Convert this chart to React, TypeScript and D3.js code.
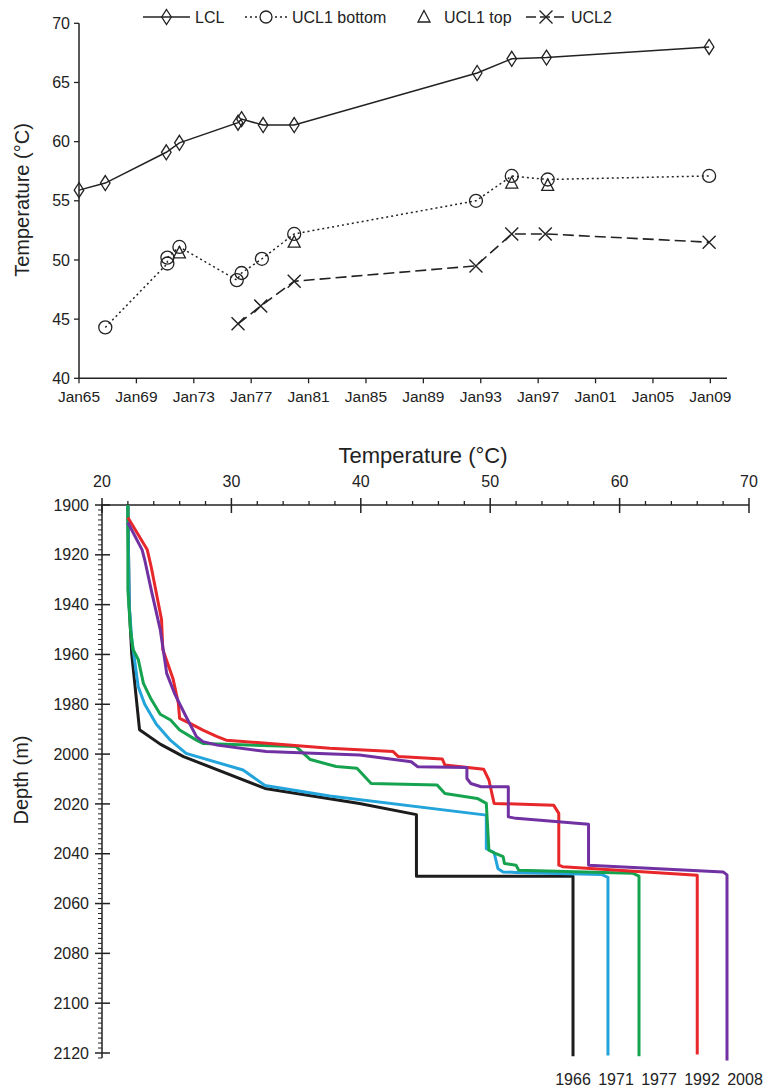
import React from "react";
import * as d3 from "d3";

const W = 773;
const H = 1091;
const FONT = "'Liberation Sans', Arial, Helvetica, sans-serif";

// ---------- Upper panel: layer temperatures through time ----------
const yearTicks = ["1965-01", "1969-01", "1973-01", "1977-01", "1981-01", "1985-01", "1989-01", "1993-01", "1997-01", "2001-01", "2005-01", "2009-01"];
const tempTicksTop = [40, 45, 50, 55, 60, 65, 70];

const lclDates = ["1965-01", "1966-11", "1971-02", "1972-01", "1976-02", "1976-05", "1977-11", "1980-01", "1992-10", "1995-03", "1997-08", "2008-12"];
const lclTemps = [55.9, 56.5, 59.1, 59.9, 61.6, 61.9, 61.4, 61.4, 65.8, 67.0, 67.1, 68.0];

const ucl1BottomDates = ["1966-11", "1971-03", "1971-03", "1972-01", "1976-01", "1976-05", "1977-10", "1980-01", "1992-09", "1995-03", "1997-09", "2008-12"];
const ucl1BottomTemps = [44.3, 49.7, 50.2, 51.1, 48.3, 48.9, 50.1, 52.2, 55.0, 57.1, 56.8, 57.1];

const ucl1TopDates = ["1972-01", "1980-01", "1995-03", "1997-09"];
const ucl1TopTemps = [50.6, 51.5, 56.5, 56.3];

const ucl2Dates = ["1976-02", "1977-09", "1980-01", "1992-09", "1995-03", "1997-07", "2008-12"];
const ucl2Temps = [44.6, 46.1, 48.2, 49.5, 52.2, 52.2, 51.5];

// ---------- Lower panel: temperature-depth profiles ----------
const tempTicksBottom = [20, 30, 40, 50, 60, 70];
const depthTicks = [1900, 1920, 1940, 1960, 1980, 2000, 2020, 2040, 2060, 2080, 2100, 2120];

// [temperature °C, depth m]
const profile1966: [number, number][] = [
  [22.0, 1900], [22.1, 1940], [22.3, 1960], [22.9, 1990.2], [24.5, 1996], [26.3, 2001],
  [32.6, 2013.8], [39.9, 2019.8], [44.3, 2024.3], [44.3, 2049], [56.4, 2049], [56.4, 2121.3],
];
const profile1971: [number, number][] = [
  [22.0, 1900], [22.1, 1940], [22.3, 1954], [22.8, 1973], [23.3, 1980], [24.2, 1988],
  [25.3, 1994.5], [26.5, 1999.7], [30.9, 2006.4], [32.6, 2012.6], [37.6, 2016.8], [49.7, 2024.5],
  [49.7, 2038], [50.3, 2039.5], [50.6, 2046], [51.0, 2047.3], [52.0, 2047.5], [58.6, 2048.3],
  [59.1, 2049.5], [59.1, 2121],
];
const profile1977: [number, number][] = [
  [22.0, 1900], [22.0, 1934], [22.2, 1950], [22.4, 1958], [22.8, 1962], [23.2, 1971.6],
  [23.8, 1978], [24.5, 1984], [25.3, 1986.3], [26.0, 1990.3], [27.3, 1994.4], [27.8, 1995.7],
  [35.0, 1997], [36.1, 2002.2], [38.1, 2005], [39.7, 2005.7], [40.8, 2011.8], [45.9, 2012.4],
  [46.5, 2015.8], [49.0, 2017.8], [49.7, 2019.8], [49.9, 2038.6], [50.4, 2039.9], [51.0, 2041.2],
  [51.1, 2043.9], [52.0, 2044.6], [52.2, 2046.6], [61.0, 2047.8], [61.5, 2049], [61.5, 2121.3],
];
const profile1992: [number, number][] = [
  [22.0, 1905], [23.5, 1918], [23.8, 1924.8], [24.6, 1946], [24.7, 1958], [25.5, 1970],
  [25.9, 1979.6], [26.0, 1985.7], [26.8, 1987.7], [27.8, 1990.4], [28.9, 1993], [29.6, 1994.4],
  [37.6, 1997.7], [42.5, 1999], [42.9, 2001], [46.3, 2002], [46.5, 2004.4], [49.5, 2006.1],
  [49.9, 2010.4], [50.3, 2019.8], [54.9, 2020.5], [55.3, 2023.8], [55.3, 2044.6], [55.6, 2045.2],
  [66.0, 2048.6], [66.0, 2120.6],
];
const profile2008: [number, number][] = [
  [22.0, 1907], [23.1, 1918], [23.3, 1922], [23.8, 1934], [24.5, 1950], [25.0, 1967.6],
  [25.6, 1975.6], [26.5, 1985], [27.3, 1993], [27.8, 1995], [28.9, 1996.4], [32.7, 1999],
  [39.9, 2000.4], [43.9, 2003.1], [44.4, 2005.1], [48.2, 2005.4], [48.2, 2009.8], [48.5, 2011.8],
  [49.3, 2013.1], [51.4, 2013.1], [51.4, 2025.2], [52.0, 2025.8], [57.6, 2028.2], [57.6, 2044.6],
  [68.0, 2047.3], [68.3, 2048.5], [68.3, 2123],
];

const profileYears = ["1966", "1971", "1977", "1992", "2008"];
const profileData = [profile1966, profile1971, profile1977, profile1992, profile2008];
const profileColors = ["#1c1c1c", "#23a4db", "#16a34f", "#e8272b", "#7131a3"];

const parseMonth = d3.timeParse("%Y-%m");
const fmtTick = d3.timeFormat("%b%y");

function Diamond({ x, y }: { x: number; y: number }) {
  return <path d={`M${x},${y - 7.5}L${x + 4.8},${y}L${x},${y + 7.5}L${x - 4.8},${y}Z`} fill="none" stroke="#222" strokeWidth={1.3} />;
}
function Circle({ x, y }: { x: number; y: number }) {
  return <circle cx={x} cy={y} r={6.5} fill="none" stroke="#222" strokeWidth={1.3} />;
}
function Triangle({ x, y }: { x: number; y: number }) {
  return <path d={`M${x},${y - 6.5}L${x + 6},${y + 5}L${x - 6},${y + 5}Z`} fill="none" stroke="#222" strokeWidth={1.3} />;
}
function Cross({ x, y }: { x: number; y: number }) {
  return <path d={`M${x - 6.5},${y - 6.5}L${x + 6.5},${y + 6.5}M${x - 6.5},${y + 6.5}L${x + 6.5},${y - 6.5}`} stroke="#222" strokeWidth={1.4} />;
}

export default function App() {
  // upper panel scales
  const xT = d3.scaleTime().domain([parseMonth("1965-01")!, parseMonth("2010-03")!]).range([79, 727]);
  const yT = d3.scaleLinear().domain([40, 70]).range([378.3, 23.3]);

  const toPts = (dates: string[], temps: number[]) => dates.map((d, i) => [xT(parseMonth(d)!), yT(temps[i])] as [number, number]);
  const lclPts = toPts(lclDates, lclTemps);
  const ucl1bPts = toPts(ucl1BottomDates, ucl1BottomTemps);
  const ucl1tPts = toPts(ucl1TopDates, ucl1TopTemps);
  const ucl2Pts = toPts(ucl2Dates, ucl2Temps);
  const lineT = d3.line<[number, number]>();

  // lower panel scales
  const xB = d3.scaleLinear().domain([20, 70]).range([102, 749]);
  const yB = d3.scaleLinear().domain([1900, 2120]).range([505, 1053]);
  const lineB = d3.line<[number, number]>().x((d) => xB(d[0])).y((d) => yB(d[1]));
  const minorTemps = d3.range(20, 70.01, 2).filter((v) => v % 10 !== 0);
  const minorDepths = d3.range(1900, 2122.01, 2).filter((v) => v % 20 !== 0);

  // year labels under the profile ends, nudged right so they don't collide
  const labelW = 36;
  const labelGap = 7;
  let prevRight = -Infinity;
  const labelX = profileData.map((p) => {
    const cx = xB(p[p.length - 1][0]);
    const left = Math.max(cx - labelW / 2, prevRight + labelGap);
    prevRight = left + labelW;
    return left + labelW / 2;
  });

  const ink = "#222";

  return (
    <svg width={W} height={H} style={{ position: "absolute", left: 0, top: 0, background: "#fff" }} fontFamily={FONT}>
      <rect width={W} height={H} fill="#fff" />

      {/* ===== Upper panel ===== */}
      <g>
        {/* legend */}
        <g fontSize={16} fill={ink}>
          <line x1={143} x2={190} y1={17} y2={17} stroke={ink} strokeWidth={1.5} />
          <Diamond x={166.5} y={17} />
          <text x={195} y={22.5}>LCL</text>
          <line x1={245} x2={287} y1={17} y2={17} stroke={ink} strokeWidth={1.5} strokeDasharray="2,3" />
          <circle cx={266} cy={17} r={6} fill="#fff" stroke={ink} strokeWidth={1.3} />
          <text x={292} y={22.5}>UCL1 bottom</text>
          <Triangle x={424} y={17} />
          <text x={444} y={22.5}>UCL1 top</text>
          <line x1={526} x2={566} y1={17} y2={17} stroke={ink} strokeWidth={1.5} strokeDasharray="10,4" />
          <Cross x={546} y={17} />
          <text x={571} y={22.5}>UCL2</text>
        </g>

        {/* axes */}
        <line x1={79} x2={79} y1={yT(40)} y2={yT(70)} stroke={ink} strokeWidth={1.5} />
        <line x1={79} x2={727} y1={yT(40)} y2={yT(40)} stroke={ink} strokeWidth={1.5} />
        {tempTicksTop.map((t) => (
          <g key={t}>
            <line x1={74} x2={79} y1={yT(t)} y2={yT(t)} stroke={ink} strokeWidth={1.3} />
            <text x={70} y={yT(t)} dy="0.35em" textAnchor="end" fontSize={16} fill={ink}>{t}</text>
          </g>
        ))}
        {yearTicks.map((d) => {
          const x = xT(parseMonth(d)!);
          return (
            <g key={d}>
              <line x1={x} x2={x} y1={yT(40)} y2={yT(40) + 5} stroke={ink} strokeWidth={1.3} />
              <text x={x} y={402} textAnchor="middle" fontSize={15.5} fill={ink}>{fmtTick(parseMonth(d)!)}</text>
            </g>
          );
        })}
        <text transform={`translate(29,200) rotate(-90)`} textAnchor="middle" fontSize={20} fill={ink}>Temperature (°C)</text>

        {/* series */}
        <path d={lineT(lclPts)!} fill="none" stroke={ink} strokeWidth={1.5} />
        <path d={lineT(ucl1bPts)!} fill="none" stroke={ink} strokeWidth={1.5} strokeDasharray="2,3" />
        <path d={lineT(ucl2Pts)!} fill="none" stroke={ink} strokeWidth={1.6} strokeDasharray="11,5" />
        {lclPts.map(([x, y], i) => <Diamond key={"l" + i} x={x} y={y} />)}
        {ucl1bPts.map(([x, y], i) => <Circle key={"b" + i} x={x} y={y} />)}
        {ucl1tPts.map(([x, y], i) => <Triangle key={"t" + i} x={x} y={y} />)}
        {ucl2Pts.map(([x, y], i) => <Cross key={"u" + i} x={x} y={y} />)}
      </g>

      {/* ===== Lower panel ===== */}
      <g>
        <text x={423} y={463} textAnchor="middle" fontSize={22} fill={ink}>Temperature (°C)</text>
        <line x1={xB(20)} x2={xB(70)} y1={505} y2={505} stroke={ink} strokeWidth={1.5} />
        <line x1={102} x2={102} y1={505} y2={yB(2122)} stroke={ink} strokeWidth={1.5} />
        {tempTicksBottom.map((t) => (
          <g key={t}>
            <line x1={xB(t)} x2={xB(t)} y1={498} y2={513} stroke={ink} strokeWidth={1.5} />
            <text x={xB(t)} y={487} textAnchor="middle" fontSize={16} fill={ink}>{t}</text>
          </g>
        ))}
        {minorTemps.map((t) => (
          <line key={t} x1={xB(t)} x2={xB(t)} y1={501} y2={505} stroke={ink} strokeWidth={1.3} />
        ))}
        {depthTicks.map((d) => (
          <g key={d}>
            <line x1={95} x2={110} y1={yB(d)} y2={yB(d)} stroke={ink} strokeWidth={1.5} />
            <text x={89} y={yB(d)} dy="0.35em" textAnchor="end" fontSize={16} fill={ink}>{d}</text>
          </g>
        ))}
        {minorDepths.map((d) => (
          <line key={d} x1={98} x2={102} y1={yB(d)} y2={yB(d)} stroke={ink} strokeWidth={1} />
        ))}
        <text transform={`translate(28,780) rotate(-90)`} textAnchor="middle" fontSize={20} fill={ink}>Depth (m)</text>

        {profileData.map((p, i) => (
          <path key={profileYears[i]} d={lineB(p)!} fill="none" stroke={profileColors[i]} strokeWidth={3} strokeLinejoin="round" strokeLinecap="butt" />
        ))}
        {profileYears.map((yr, i) => (
          <text key={yr} x={labelX[i]} y={1085} textAnchor="middle" fontSize={16} fill={ink}>{yr}</text>
        ))}
      </g>
    </svg>
  );
}
